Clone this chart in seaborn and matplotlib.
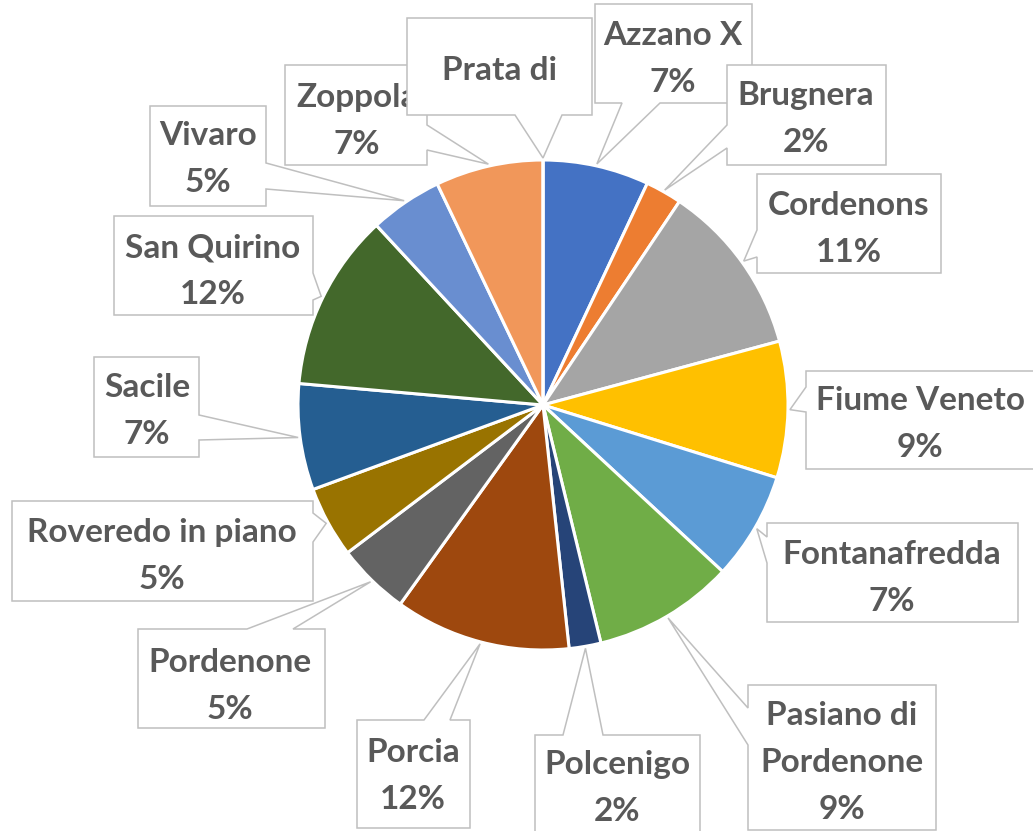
import numpy as np
import matplotlib
matplotlib.use("Agg")
import matplotlib.pyplot as plt
from matplotlib.patches import Polygon
import seaborn as sns

# dati (quote per comune, in senso orario dall'alto)
comuni = ["Azzano X", "Brugnera", "Cordenons", "Fiume Veneto", "Fontanafredda",
          "Pasiano di\nPordenone", "Polcenigo", "Porcia", "Pordenone",
          "Roveredo in piano", "Sacile", "San Quirino", "Vivaro", "Zoppola",
          "Prata di"]
quote = [7.0, 2.4, 11.4, 9.0, 7.1, 9.3, 2.1, 11.6, 4.8, 4.7, 7.0, 11.7, 4.8, 7.1, 0.0]
colori = ["#4472C4", "#ED7D31", "#A5A5A5", "#FFC000", "#5B9BD5", "#70AD47",
          "#264478", "#9E480E", "#636363", "#997300", "#255E91", "#43682B",
          "#698ED0", "#F1975A", "#B7B7B7"]

W, H = 1033, 831
CX, CY, R = 543, 405, 245

# posizione etichette (pixel, y verso il basso):
# box x0, y0, x1, y1, lato del richiamo, base del richiamo, x testo, y prima riga
etichette = {
    "Azzano X": (595, 4, 752, 103, "bottom", (622, 660), 673, 33),
    "Brugnera": (727, 65, 886, 165, "left", (125, 148), 806, 93),
    "Cordenons": (757, 174, 941, 273, "left", (230, 257), 849, 203),
    "Fiume Veneto": (806, 371, 1045, 469, "left", (387, 412), 920, 398),
    "Fontanafredda": (767, 523, 1018, 622, "left", (537, 563), 892, 552),
    "Pasiano di\nPordenone": (748, 685, 936, 830, "left", (708, 745), 842, 713),
    "Polcenigo": (535, 735, 700, 845, "top", (563, 603), 617, 762),
    "Porcia": (357, 720, 470, 828, "top", (424, 450), 413, 750),
    "Pordenone": (138, 629, 325, 728, "top", (247, 293), 230, 660),
    "Roveredo in piano": (12, 501, 313, 601, "right", (513, 542), 162, 530),
    "Sacile": (94, 357, 199, 457, "right", (415, 440), 147, 385),
    "San Quirino": (114, 216, 313, 315, "right", (273, 300), 213, 245),
    "Vivaro": (150, 106, 266, 206, "right", (163, 189), 208, 133),
    "Zoppola": (285, 65, 427, 165, "right", (125, 150), 357, 95),
    "Prata di": (407, 18, 592, 115, "bottom", (515, 562), 500, 68),
}

sns.set_theme(style="white")
plt.rcParams["font.family"] = ["Lato", "DejaVu Sans"]

fig = plt.figure(figsize=(W / 100, H / 100), dpi=100)
ax = fig.add_axes([0, 0, 1, 1])

wedges, _ = ax.pie(quote, colors=sns.color_palette(colori), startangle=90,
                   counterclock=False, center=(CX, H - CY), radius=R,
                   wedgeprops=dict(edgecolor="white", linewidth=2.2))
ax.set_xlim(0, W)
ax.set_ylim(0, H)
ax.set_aspect("equal")
ax.axis("off")


def callout(x0, y0, x1, y1, lato, base, tip):
    a, b = base
    pts = [(x0, y0)]
    if lato == "top":
        pts += [(a, y0), tip, (b, y0)]
    pts.append((x1, y0))
    if lato == "right":
        pts += [(x1, a), tip, (x1, b)]
    pts.append((x1, y1))
    if lato == "bottom":
        pts += [(b, y1), tip, (a, y1)]
    pts.append((x0, y1))
    if lato == "left":
        pts += [(x0, b), tip, (x0, a)]
    return [(px, H - py) for px, py in pts]


for i, (nome, v, w) in enumerate(zip(comuni, quote, wedges)):
    x0, y0, x1, y1, lato, base, tx, ty = etichette[nome]
    mid = np.deg2rad((w.theta1 + w.theta2) / 2)
    tip = (CX + (R + 2) * np.cos(mid), CY - (R + 2) * np.sin(mid))
    ax.add_patch(Polygon(callout(x0, y0, x1, y1, lato, base, tip), closed=True,
                         facecolor="white", edgecolor="#BFBFBF", linewidth=1.1,
                         zorder=3 + 2 * i))
    righe = nome.split("\n")
    if v > 0:
        righe.append(f"{v:.0f}%")
    for k, riga in enumerate(righe):
        ax.text(tx, H - (ty + 47 * k + 12), riga, ha="center", va="baseline",
                fontsize=24, fontweight="bold", color="#595959", zorder=4 + 2 * i)

fig.savefig("out.png", dpi=100)
